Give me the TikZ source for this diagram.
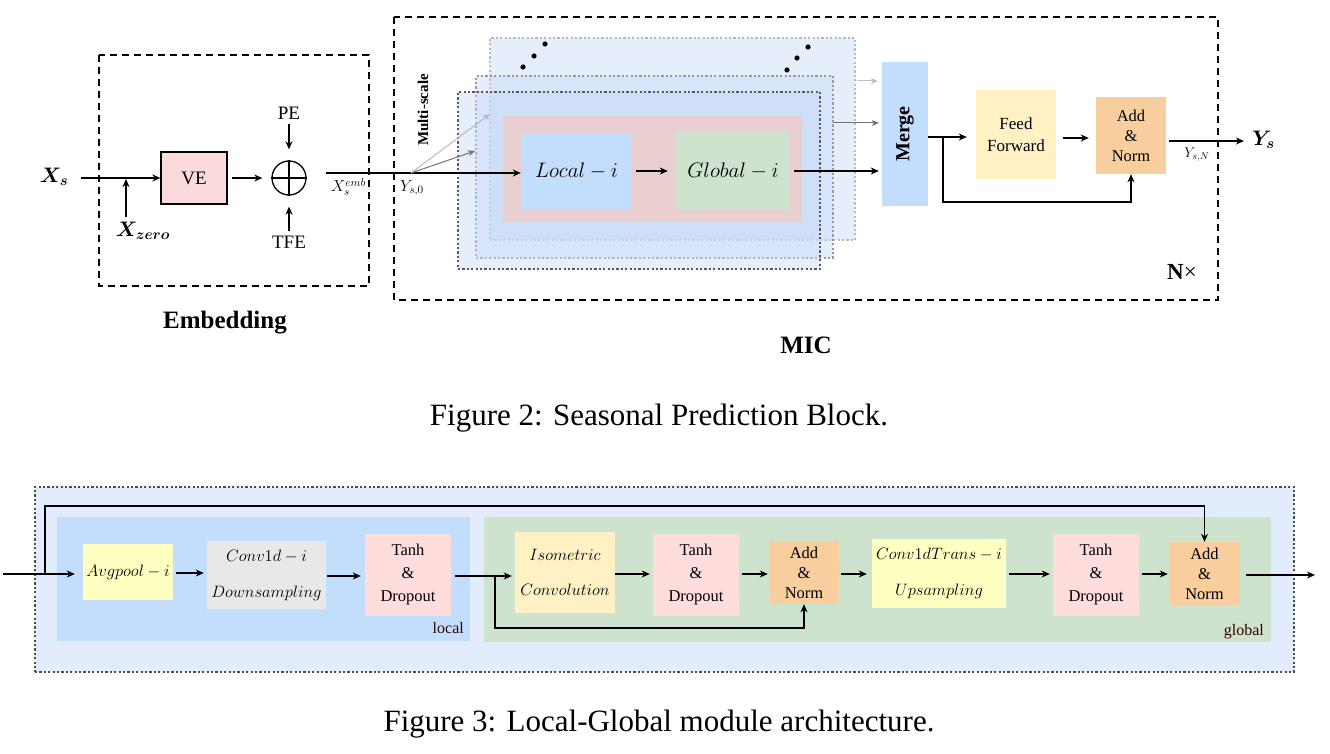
\RequirePackage{fix-cm}
\documentclass[tikz,border=0pt]{standalone}
\usepackage{bm}
\usepackage{fontspec}
\setmainfont{Liberation Serif}
\usetikzlibrary{arrows.meta}
\newcommand{\fz}[2]{\fontsize{#1}{#2}\selectfont}
\definecolor{cVE}{HTML}{FADADA}
\definecolor{cLB}{HTML}{C2DEFC}
\definecolor{cGR}{HTML}{CDE3CD}
\definecolor{cYE}{HTML}{FFF1C4}
\definecolor{cLY}{HTML}{FFFFC2}
\definecolor{cGY}{HTML}{E8E8E8}
\definecolor{cPK}{HTML}{FFDDDD}
\definecolor{cOR}{HTML}{F8CE9E}
\definecolor{cOUT}{HTML}{E3ECFD}
\definecolor{cST}{HTML}{C8DAF8}
\definecolor{cSTPK}{HTML}{EACFD0}
\definecolor{cLBL}{HTML}{330000}
\tikzset{
  arr/.style={-{Stealth[length=8pt,width=7pt,inset=2.5pt]}, line width=1.3pt},
  ln/.style={line width=1.3pt},
  blk/.style={draw=none, inner sep=0pt, align=center},
  dashbox/.style={draw=black, line width=2.6pt, dash pattern=on 7pt off 5pt},
  stackbox/.style={inner sep=0pt, fill=cST, fill opacity=0.45, line width=2.2pt, dash pattern=on 2.2pt off 2.2pt},
  lab/.style={inner sep=0pt},
}
\begin{document}
\begin{tikzpicture}[x=1pt,y=-1pt]
\useasboundingbox (0,0) rectangle (1330,754);
\fill[white] (0,0) rectangle (1330,754);

% ===================== Figure 2 =====================
% dashed frames
\draw[dashbox] (99,55) rectangle (369,286);
\draw[dashbox] (394,17) rectangle (1218,300);
\node[lab, font=\bfseries\fz{25}{30}] (embl) at (225,323) {Embedding};
\node[lab, font=\bfseries\fz{25}{30}] (micl) at (806,345) {MIC};
\node[lab, font=\fz{23}{28}] (nx) at (1182,272) {\textbf{N}×};
\node[lab, font=\bfseries\fz{15}{18}, rotate=90] (ms) at (423,110) {Multi-scale};

% embedding
\node[lab, font=\fz{21}{25}] (xs) at (54,177) {$\bm{X_s}$};
\node[draw=black, line width=1.3pt, fill=cVE, minimum width=66pt, minimum height=52pt, inner sep=0pt, font=\fz{19}{22}] (ve) at (194,178) {VE};
\node[draw=black, line width=1.3pt, circle, minimum size=34pt, inner sep=0pt] (plus) at (289,178) {};
\draw[line width=1.3pt] (plus.north) -- (plus.south) (plus.west) -- (plus.east);
\node[lab, font=\fz{19}{22}] (pe) at (289,113) {PE};
\node[lab, font=\fz{19}{22}] (tfe) at (289,242) {TFE};
\node[lab, font=\fz{21}{25}] (xz) at (143,231) {$\bm{X_{zero}}$};
\coordinate (xin) at (81,178);
\coordinate (xzt) at (126,217);
\coordinate (xzh) at (126,179);
\draw[arr] (xin) -- (ve.west);
\draw[arr] (xzt) -- (xzh);
\draw[arr, shorten <=4pt, shorten >=9pt] (ve.east) -- (plus.west);
\draw[arr, shorten <=5pt, shorten >=11pt] (pe.south) -- (plus.north);
\draw[arr, shorten <=5pt, shorten >=11pt] (tfe.north) -- (plus.south);

% stack
\node[stackbox, draw=gray!55, minimum width=365pt, minimum height=202pt] (back) at (672.5,139) {};
\node[stackbox, draw=gray!80, minimum width=357pt, minimum height=182pt] (mid) at (654.5,167) {};
\node[stackbox, draw=black!65, minimum width=362pt, minimum height=177pt] (front) at (639,180.5) {};
\node[blk, fill=cSTPK, minimum width=299pt, minimum height=106pt] (pinkb) at (652.5,169) {};
\node[blk, fill=cLB, minimum width=111pt, minimum height=76pt, font=\fz{21}{25}] (loc) at (576.5,171) {$Local-i$};
\node[blk, fill=cGR, minimum width=114pt, minimum height=77pt, font=\fz{21}{25}] (glo) at (733,171) {$Global-i$};
\foreach \p in {(523,67),(534,56),(545,44),(787,70),(797,58),(808,47)} \fill[black] \p circle (2.6pt);

\coordinate (emb) at (326,173);
\coordinate (ys0) at (411,173);
\draw[ln] (emb) -- (ys0);
\draw[arr] (ys0) -- (loc.west |- ys0);
\coordinate (g1) at (475,151);
\coordinate (g2) at (490,114);
\draw[arr, draw=gray!90!black, line width=1pt, -{Stealth[length=7pt,width=6pt,inset=2pt]}] (ys0) -- (g1);
\draw[arr, draw=gray!55, line width=1pt, -{Stealth[length=7pt,width=6pt,inset=2pt]}] (ys0) -- (g2);
\node[lab, font=\fz{16}{19}, anchor=west] (xemb) at (331,187) {$X_s^{emb}$};
\node[lab, font=\fz{16}{19}, anchor=west] (ys0l) at (400,188) {$Y_{s,0}$};
\draw[arr, shorten <=4pt, shorten >=8pt] (loc.east) -- (glo.west);

% merge etc.
\node[blk, fill=cLB, minimum width=46pt, minimum height=144pt] (mrg) at (905,134) {};
\node[lab, rotate=90, font=\bfseries\fz{20}{24}] (mrgl) at (905,134) {Merge};
\draw[arr, shorten <=4pt, shorten >=3pt] (glo.east) -- (mrg.west |- glo.east);
\coordinate (m2) at (833,123);
\coordinate (m3) at (857,81);
\draw[draw=gray!90!black, line width=1pt, -{Stealth[length=7pt,width=6pt,inset=2pt]}, shorten >=3pt] (m2) -- (mrg.west |- m2);
\draw[draw=gray!50, line width=1pt, -{Stealth[length=7pt,width=6pt,inset=2pt]}, shorten >=4pt] (m3) -- (mrg.west |- m3);

\node[blk, fill=cYE, minimum width=80pt, minimum height=89pt, font=\fz{17}{22}] (ff) at (1016,134.5) {Feed\\Forward};
\node[blk, fill=cOR, minimum width=70pt, minimum height=77pt, font=\fz{16.5}{20}] (an) at (1131,135.5) {Add\\\&\\Norm};
\coordinate (mo) at (943,137);
\draw[arr, shorten >=9pt] (mrg.east |- mo) -- (ff.west |- mo);
\draw[arr, shorten <=7pt, shorten >=7pt] (ff.east |- 0,138) -- (an.west |- 0,138);
\coordinate (rb) at (943,202);
\draw[arr] (mo) -- (rb) -| (an.south);
\coordinate (yout) at (1244,141);
\draw[arr, shorten <=3pt] (an.east |- yout) -- (yout);
\node[lab, font=\fz{21}{25}, anchor=west] (ysl) at (1252,140) {$\bm{Y_s}$};
\node[lab, font=\fz{14}{17}] (ysn) at (1197,155) {$Y_{s,N}$};

\node[lab, font=\fz{31}{36}] (cap2) at (659,418) {Figure 2: Seasonal Prediction Block.};

% ===================== Figure 3 =====================
\node[inner sep=0pt, fill=cOUT, draw=black!70, line width=2.2pt, dash pattern=on 2.2pt off 2.2pt, minimum width=1259pt, minimum height=185pt] (outer) at (664.5,579.5) {};
\node[blk, fill=cLB, minimum width=413pt, minimum height=124pt] (larea) at (263.5,579) {};
\node[blk, fill=cGR, minimum width=787pt, minimum height=125pt] (garea) at (877.5,579.5) {};
\node[lab, font=\fz{16}{19}, text=cLBL, anchor=east] (locl) at (464,628) {local};
\node[lab, font=\fz{16}{19}, text=cLBL, anchor=east] (glol) at (1264,632) {global};

\node[blk, fill=cLY, minimum width=90pt, minimum height=56pt, font=\fz{16.5}{19}] (avg) at (128,572) {$Avgpool-i$};
\node[blk, fill=cGY, minimum width=119pt, minimum height=68pt, font=\fz{16.5}{36}] (conv) at (266.5,575) {$Conv1d-i$\\$Downsampling$};
\node[blk, fill=cPK, minimum width=86pt, minimum height=82pt, font=\fz{16.5}{23}] (th1) at (408,575) {Tanh\\\&\\Dropout};
\node[blk, fill=cYE, minimum width=100pt, minimum height=81pt, font=\fz{16.5}{35}] (iso) at (565,572.5) {$Isometric$\\$Convolution$};
\node[blk, fill=cPK, minimum width=86pt, minimum height=82pt, font=\fz{16.5}{23}] (th2) at (696,575) {Tanh\\\&\\Dropout};
\node[blk, fill=cOR, minimum width=70pt, minimum height=63pt, font=\fz{16.5}{20}] (an1) at (804,572.5) {Add\\\&\\Norm};
\node[blk, fill=cLY, minimum width=134pt, minimum height=69pt, font=\fz{16.5}{36}] (ct) at (939,573.5) {$Conv1dTrans-i$\\$Upsampling$};
\node[blk, fill=cPK, minimum width=86pt, minimum height=82pt, font=\fz{16.5}{23}] (th3) at (1096,575) {Tanh\\\&\\Dropout};
\node[blk, fill=cOR, minimum width=71pt, minimum height=63pt, font=\fz{16.5}{20}] (an2) at (1204.5,573.5) {Add\\\&\\Norm};

\coordinate (in3) at (3,574);
\coordinate (byp) at (45,574);
\coordinate (bt) at (45,506);
\draw[arr, shorten >=8pt] (in3) -- (avg.west |- in3);
\draw[arr] (byp) -- (bt) -| (an2.north);
\draw[arr, shorten <=3pt, shorten >=3pt] (avg.east |- 0,573) -- (conv.west |- 0,573);
\draw[arr, shorten <=1pt, shorten >=4pt] (conv.east |- 0,576) -- (th1.west |- 0,576);
\coordinate (res) at (495,576);
\draw[ln, shorten <=4pt] (th1.east |- res) -- (res);
\draw[arr, shorten >=3pt] (res) -- (iso.west |- res);
\coordinate (rb3) at (495,628);
\draw[arr] (res) -- (rb3) -| (an1.south);
\draw[arr, shorten >=3pt] (iso.east |- 0,574) -- (th2.west |- 0,574);
\draw[arr, shorten <=3pt, shorten >=1pt] (th2.east |- 0,574) -- (an1.west |- 0,574);
\draw[arr, shorten <=2pt, shorten >=5pt] (an1.east |- 0,574) -- (ct.west |- 0,574);
\draw[arr, shorten <=3pt, shorten >=3pt] (ct.east |- 0,574) -- (th3.west |- 0,574);
\draw[arr, shorten <=3pt, shorten >=1pt] (th3.east |- 0,574) -- (an2.west |- 0,574);
\coordinate (out3) at (1315,575);
\draw[arr, shorten <=6pt] (an2.east |- out3) -- (out3);

\node[lab, font=\fz{31}{36}] (cap3) at (659,724) {Figure 3: Local-Global module architecture.};
\end{tikzpicture}
\end{document}
